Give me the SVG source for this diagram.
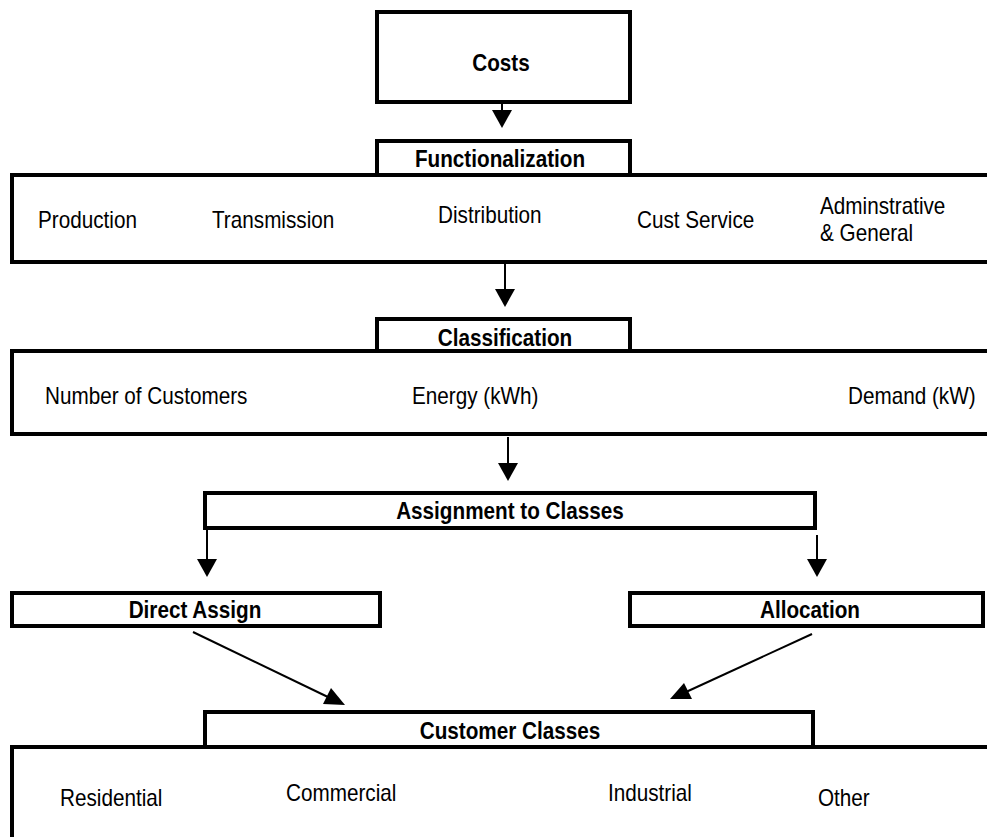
<svg xmlns="http://www.w3.org/2000/svg" width="987" height="837" viewBox="0 0 987 837">
<defs>
<style>
.b{fill:#fff;stroke:#000;stroke-width:4}
.t,.h{font-family:"Liberation Sans",Arial,sans-serif;font-size:23px;fill:#000;transform:scaleX(0.9);transform-box:fill-box}
.t{transform-origin:left center}
.h{font-weight:bold;text-anchor:middle;transform-origin:center}
.c{stroke:#000;stroke-width:2;fill:none}
.a{fill:#000}
</style>
</defs>
<rect width="987" height="837" fill="#fff"/>
<g id="costs">
<rect class="b" x="377" y="12" width="253" height="90"/>
<text class="h" x="501" y="71">Costs</text>
</g>
<g id="functionalization">
<rect class="b" x="12" y="175" width="990" height="87"/>
<rect class="b" x="377" y="141" width="253" height="34"/>
<text class="h" x="500" y="167">Functionalization</text>
<text class="t" x="38" y="228">Production</text>
<text class="t" x="212" y="228">Transmission</text>
<text class="t" x="438" y="223">Distribution</text>
<text class="t" x="637" y="228">Cust Service</text>
<text class="t" x="820" y="214">Adminstrative</text>
<text class="t" x="820" y="241">&amp; General</text>
</g>
<g id="classification">
<rect class="b" x="12" y="351" width="990" height="83"/>
<rect class="b" x="377" y="319" width="253" height="32"/>
<text class="h" x="505" y="346">Classification</text>
<text class="t" x="45" y="404">Number of Customers</text>
<text class="t" x="412" y="404">Energy (kWh)</text>
<text class="t" x="848" y="404">Demand (kW)</text>
</g>
<g id="assignment">
<rect class="b" x="205" y="493" width="610" height="35"/>
<text class="h" x="510" y="519">Assignment to Classes</text>
</g>
<g id="direct-assign">
<rect class="b" x="12" y="593" width="368" height="33"/>
<text class="h" x="195" y="618">Direct Assign</text>
</g>
<g id="allocation">
<rect class="b" x="630" y="593" width="353" height="33"/>
<text class="h" x="810" y="618">Allocation</text>
</g>
<g id="customer-classes">
<rect class="b" x="12" y="747" width="990" height="100"/>
<rect class="b" x="205" y="712" width="608" height="35"/>
<text class="h" x="510" y="739">Customer Classes</text>
<text class="t" x="60" y="806">Residential</text>
<text class="t" x="286" y="801">Commercial</text>
<text class="t" x="608" y="801">Industrial</text>
<text class="t" x="818" y="806">Other</text>
</g>
<g id="connectors">
<line class="c" x1="502" y1="102" x2="502" y2="112"/>
<polygon class="a" points="492,110 512,110 502,128"/>
<line class="c" x1="505" y1="264" x2="505" y2="291"/>
<polygon class="a" points="495,289 515,289 505,307"/>
<line class="c" x1="508" y1="437" x2="508" y2="465"/>
<polygon class="a" points="498,463 518,463 508,481"/>
<line class="c" x1="207" y1="528" x2="207" y2="561"/>
<polygon class="a" points="197,559 217,559 207,577"/>
<line class="c" x1="817" y1="535" x2="817" y2="561"/>
<polygon class="a" points="807,559 827,559 817,577"/>
<line class="c" x1="193" y1="632" x2="330" y2="698"/>
<polygon class="a" points="345,705 323,704 331,688"/>
<line class="c" x1="812" y1="634" x2="686" y2="692"/>
<polygon class="a" points="670,699 692,699 684,683"/>
</g>
</svg>
